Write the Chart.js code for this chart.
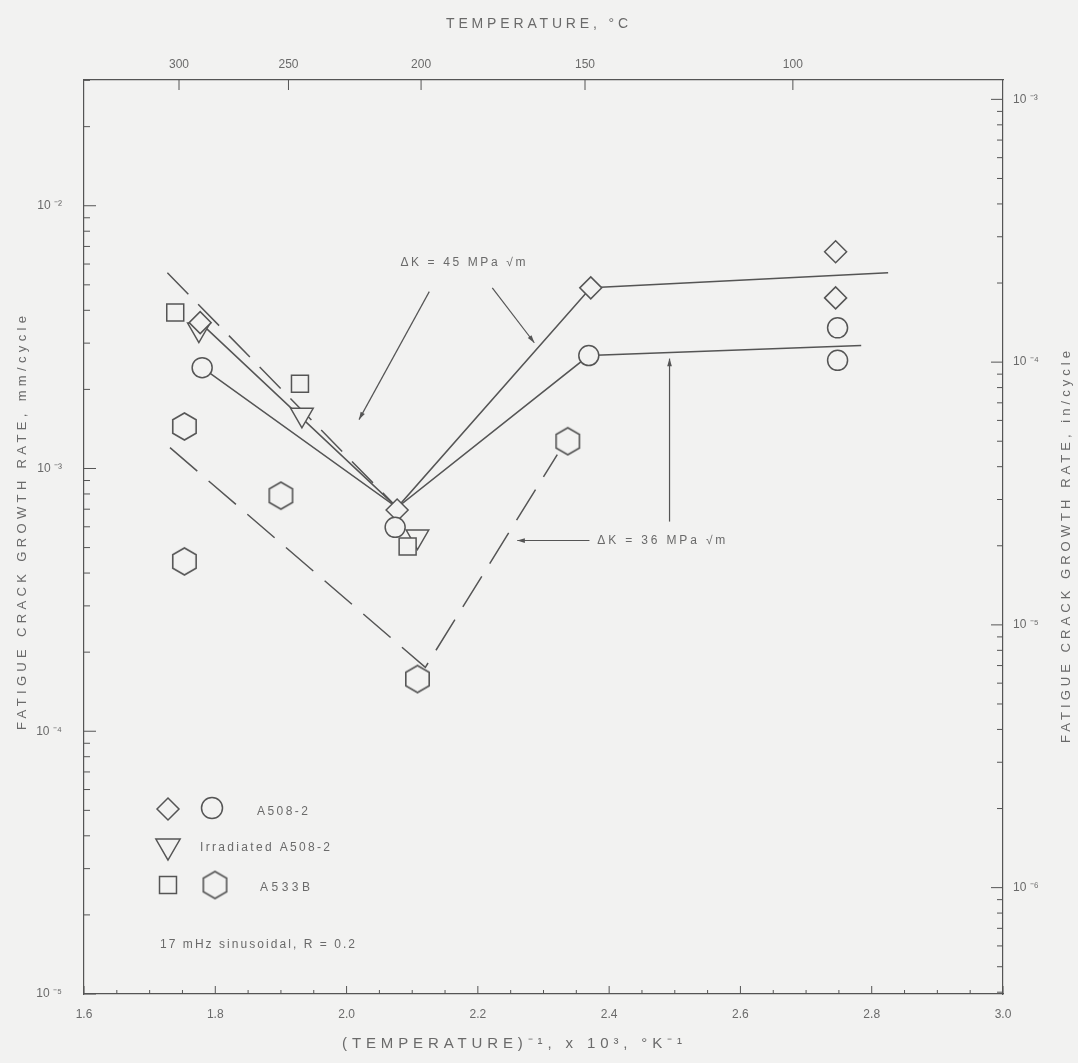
<!DOCTYPE html>
<html>
<head>
<meta charset="utf-8">
<script src="https://cdn.jsdelivr.net/npm/chart.js@4.4.0/dist/chart.umd.min.js"></script>
<style>
html, body { margin: 0; padding: 0; background: #f2f2f1; }
#wrap { width: 1078px; height: 1063px; }
</style>
</head>
<body>
<div id="wrap"><canvas id="graphCanvas" width="1078" height="1063"></canvas></div>
<script>
// axis ranges
const x_min = 1.6;
const x_max = 3.0;
const y_min = 1e-5;
const y_max = 0.0301;
const mm_per_in = 25.4;
const temp_ticks = [300, 250, 200, 150, 100];

// A508-2 (diamonds, dK = 45)
const diamond_x = [1.777, 2.077, 2.372, 2.745, 2.745];
const diamond_y = [3.59e-3, 6.95e-4, 4.87e-3, 6.68e-3, 4.46e-3];
// A508-2 (circles, dK = 36)
const circle_x = [1.780, 2.074, 2.369, 2.748, 2.748];
const circle_y = [2.42e-3, 5.97e-4, 2.69e-3, 3.43e-3, 2.58e-3];
// irradiated A508-2
const tri_x = [1.775, 1.932, 2.108];
const tri_y = [3.38e-3, 1.60e-3, 5.51e-4];
// A533B (squares)
const square_x = [1.739, 1.929, 2.093];
const square_y = [3.92e-3, 2.10e-3, 5.05e-4];
// A533B (hexagons)
const hex_x = [1.753, 1.900, 1.753, 2.108, 2.337];
const hex_y = [1.445e-3, 7.88e-4, 4.43e-4, 1.58e-4, 1.27e-3];

// trend lines
const line45_x = [1.777, 2.077, 2.372, 2.825];
const line45_y = [3.59e-3, 7.1e-4, 4.87e-3, 5.56e-3];
const line36_x = [1.780, 2.077, 2.369, 2.784];
const line36_y = [2.42e-3, 7.1e-4, 2.69e-3, 2.94e-3];
const dashA_x = [1.727, 2.077];
const dashA_y = [5.56e-3, 7.1e-4];
const dashB_x = [1.731, 2.120, 2.321];
const dashB_y = [1.20e-3, 1.75e-4, 1.13e-3];

const INK = "#555555";
const TXT = "#6a6a6a";
const BG = "#f2f2f1";
const FONT = "'Liberation Sans', Arial, sans-serif";

const graphCanvas = document.getElementById("graphCanvas");
const ctx = graphCanvas.getContext("2d");

function pts(xs, ys) {
    return xs.map((x, i) => ({x: x, y: ys[i]}));
}

function makeHexagon(r) {
    let c = document.createElement("canvas");
    let s = Math.ceil(2 * r + 4);
    c.width = s;
    c.height = s;
    let g = c.getContext("2d");
    g.beginPath();
    for (let i = 0; i < 6; i++) {
        let a = Math.PI / 2 + i * Math.PI / 3;
        let px = s / 2 + r * Math.cos(a);
        let py = s / 2 + r * Math.sin(a);
        if (i == 0) g.moveTo(px, py); else g.lineTo(px, py);
    }
    g.closePath();
    g.fillStyle = BG;
    g.fill();
    g.strokeStyle = INK;
    g.lineWidth = 1.6;
    g.stroke();
    return c;
}
const hexImg = makeHexagon(13.5);

const sup = {"-": "\u207B", "0": "\u2070", "1": "\u00B9", "2": "\u00B2", "3": "\u00B3", "4": "\u2074", "5": "\u2075", "6": "\u2076", "7": "\u2077", "8": "\u2078", "9": "\u2079"};
function powLabel(e) {
    return "10 " + String(e).split("").map(ch => sup[ch]).join("");
}

function logTicks(lo, hi) {
    let out = [];
    for (let e = Math.floor(Math.log10(lo)); e <= Math.ceil(Math.log10(hi)); e++) {
        for (let m = 1; m <= 9; m++) {
            let v = m * Math.pow(10, e);
            if (v >= lo * 0.999 && v <= hi * 1.001) out.push({value: v});
        }
    }
    return out;
}
function logLabel(value) {
    let e = Math.floor(Math.log10(value) + 1e-9);
    let m = Math.round(value / Math.pow(10, e));
    return m == 1 ? powLabel(e) : "";
}

function lineSet(xs, ys, dash) {
    return {
        data: pts(xs, ys), showLine: true, pointRadius: 0, borderColor: INK,
        borderWidth: 1.5, borderDash: dash, tension: 0, order: 2
    };
}
function pointSet(xs, ys, style, r, rot) {
    return {
        data: pts(xs, ys), showLine: false, pointStyle: style, pointRadius: r,
        pointRotation: rot || 0, pointBackgroundColor: BG, pointBorderColor: INK,
        pointBorderWidth: 1.5, order: 1
    };
}

// draw text stretched to a given width
function spacedText(c, text, x, y, width, align) {
    c.letterSpacing = "0px";
    let w = c.measureText(text).width;
    let sp = Math.max(0, (width - w) / Math.max(1, text.length - 1));
    c.letterSpacing = sp + "px";
    let total = c.measureText(text).width - sp;
    let startX = align == "center" ? x - total / 2 : x;
    c.textAlign = "left";
    c.fillText(text, startX, y);
    c.letterSpacing = "0px";
}

function arrow(c, x1, y1, x2, y2) {
    c.beginPath();
    c.moveTo(x1, y1);
    c.lineTo(x2, y2);
    c.stroke();
    let ang = Math.atan2(y2 - y1, x2 - x1);
    c.beginPath();
    c.moveTo(x2, y2);
    c.lineTo(x2 - 8 * Math.cos(ang - 0.3), y2 - 8 * Math.sin(ang - 0.3));
    c.lineTo(x2 - 8 * Math.cos(ang + 0.3), y2 - 8 * Math.sin(ang + 0.3));
    c.closePath();
    c.fill();
}

const insideTicks = {
    id: "insideTicks",
    afterDraw(chart) {
        const c = chart.ctx;
        const a = chart.chartArea;
        c.save();
        c.strokeStyle = INK;
        c.lineWidth = 1;
        const seg = (x1, y1, x2, y2) => { c.beginPath(); c.moveTo(x1, y1); c.lineTo(x2, y2); c.stroke(); };
        let sx = chart.scales.x;
        sx.ticks.forEach(t => { let p = sx.getPixelForValue(t.value); seg(p, a.bottom, p, a.bottom - (t.label ? 8 : 4)); });
        let st = chart.scales.x2;
        st.ticks.forEach(t => { let p = st.getPixelForValue(t.value); seg(p, a.top, p, a.top + 10); });
        let sy = chart.scales.y;
        sy.ticks.forEach(t => { let p = sy.getPixelForValue(t.value); seg(a.left, p, a.left + (t.label ? 12 : 6), p); });
        let sr = chart.scales.y2;
        sr.ticks.forEach(t => { let p = sr.getPixelForValue(t.value); seg(a.right, p, a.right - (t.label ? 12 : 6), p); });
        c.restore();
    }
};

const notes = {
    id: "notes",
    afterDraw(chart) {
        const c = chart.ctx;
        const a = chart.chartArea;
        const X = v => chart.scales.x.getPixelForValue(v);
        const Y = v => chart.scales.y.getPixelForValue(v);
        c.save();
        c.fillStyle = TXT;
        c.strokeStyle = INK;
        c.lineWidth = 1.2;
        c.textBaseline = "middle";

        // axis titles
        c.font = "14px " + FONT;
        spacedText(c, "TEMPERATURE, \u00B0C", 537, 24, 182, "center");
        c.font = "15px " + FONT;
        spacedText(c, "(TEMPERATURE)\u207B\u00B9, x 10\u00B3, \u00B0K\u207B\u00B9", 512, 1044, 340, "center");
        c.font = "13px " + FONT;
        c.save();
        c.translate(22, 523);
        c.rotate(-Math.PI / 2);
        spacedText(c, "FATIGUE CRACK GROWTH RATE, mm/cycle", 0, 0, 414, "center");
        c.restore();
        c.save();
        c.translate(1066, 547);
        c.rotate(-Math.PI / 2);
        spacedText(c, "FATIGUE CRACK GROWTH RATE, in/cycle", 0, 0, 392, "center");
        c.restore();

        // delta K callouts
        c.font = "12px " + FONT;
        spacedText(c, "\u0394K = 45 MPa \u221Am", X(2.082), Y(6.07e-3), 125, "left");
        spacedText(c, "\u0394K = 36 MPa \u221Am", X(2.382), Y(5.32e-4), 128, "left");
        c.fillStyle = INK;
        arrow(c, X(2.126), Y(4.71e-3), X(2.019), Y(1.535e-3));
        arrow(c, X(2.222), Y(4.87e-3), X(2.286), Y(3.01e-3));
        arrow(c, X(2.370), Y(5.32e-4), X(2.260), Y(5.32e-4));
        arrow(c, X(2.492), Y(6.28e-4), X(2.492), Y(2.62e-3));

        // legend box
        const L = a.left, T = a.top;
        const mk = (style, r, rot, x, y) => {
            Chart.helpers.drawPoint(c, {pointStyle: style, radius: r, rotation: rot, borderWidth: 1.5}, x, y);
        };
        c.fillStyle = BG;
        c.strokeStyle = INK;
        c.lineWidth = 1.5;
        mk("rectRot", 11, 0, L + 84, T + 729);
        mk("circle", 10.5, 0, L + 128, T + 728);
        mk("triangle", 14, 180, L + 84, T + 766);
        mk("rect", 12, 0, L + 84, T + 805);
        c.drawImage(hexImg, L + 131 - hexImg.width / 2, T + 805 - hexImg.height / 2);
        c.fillStyle = TXT;
        c.font = "12px " + FONT;
        spacedText(c, "A508-2", L + 173, T + 732, 51, "left");
        spacedText(c, "Irradiated A508-2", L + 116, T + 768, 130, "left");
        spacedText(c, "A533B", L + 176, T + 808, 50, "left");
        spacedText(c, "17 mHz sinusoidal, R = 0.2", L + 76, T + 865, 195, "left");
        c.restore();
    }
};

const tickFont = {family: FONT, size: 12};

let chart = new Chart(ctx, {
    type: "scatter",
    data: {
        datasets: [
            lineSet(line45_x, line45_y, []),
            lineSet(line36_x, line36_y, []),
            lineSet(dashA_x, dashA_y, [30, 14]),
            lineSet(dashB_x, dashB_y, [36, 15]),
            pointSet(hex_x, hex_y, hexImg, 13),
            pointSet(square_x, square_y, "rect", 12),
            pointSet(circle_x, circle_y, "circle", 10),
            pointSet(diamond_x, diamond_y, "rectRot", 11),
            pointSet(tri_x, tri_y, "triangle", 13, 180),
        ],
    },
    options: {
        responsive: false,
        animation: false,
        events: [],
        layout: { padding: 0 },
        plugins: { legend: { display: false }, tooltip: { enabled: false } },
        scales: {
            x: {
                type: "linear", position: "bottom", min: x_min, max: x_max,
                afterBuildTicks: (s) => {
                    let t = [];
                    for (let i = 0; i <= 28; i++) t.push({value: +(x_min + i * 0.05).toFixed(2)});
                    s.ticks = t;
                },
                ticks: {
                    autoSkip: false, maxRotation: 0, padding: 13, color: TXT, font: tickFont,
                    callback: (v) => Math.abs(v * 5 - Math.round(v * 5)) < 1e-6 ? v.toFixed(1) : "",
                },
                grid: { drawOnChartArea: false, drawTicks: false },
                border: { color: INK, width: 1.2 },
                afterFit: (s) => { s.height = 69; },
            },
            x2: {
                type: "linear", position: "top", min: x_min, max: x_max,
                afterBuildTicks: (s) => { s.ticks = temp_ticks.map(t => ({value: 1000 / (t + 273.15)})); },
                ticks: {
                    autoSkip: false, maxRotation: 0, padding: 8, color: TXT, font: tickFont,
                    callback: (v) => String(Math.round(1000 / v - 273.15)),
                },
                grid: { drawOnChartArea: false, drawTicks: false },
                border: { color: INK, width: 1.2 },
                afterFit: (s) => { s.height = 80; },
            },
            y: {
                type: "logarithmic", position: "left", min: y_min, max: y_max,
                afterBuildTicks: (s) => { s.ticks = logTicks(y_min, y_max); },
                ticks: { autoSkip: false, padding: 22, color: TXT, font: tickFont, callback: logLabel },
                grid: { drawOnChartArea: false, drawTicks: false },
                border: { color: INK, width: 1.2 },
                afterFit: (s) => { s.width = 84; },
            },
            y2: {
                type: "logarithmic", position: "right", min: y_min / mm_per_in, max: y_max / mm_per_in,
                afterBuildTicks: (s) => { s.ticks = logTicks(y_min / mm_per_in, y_max / mm_per_in); },
                ticks: { autoSkip: false, padding: 10, color: TXT, font: tickFont, callback: logLabel },
                grid: { drawOnChartArea: false, drawTicks: false },
                border: { color: INK, width: 1.2 },
                afterFit: (s) => { s.width = 75; },
            },
        },
    },
    plugins: [insideTicks, notes],
});
</script>
</body>
</html>
